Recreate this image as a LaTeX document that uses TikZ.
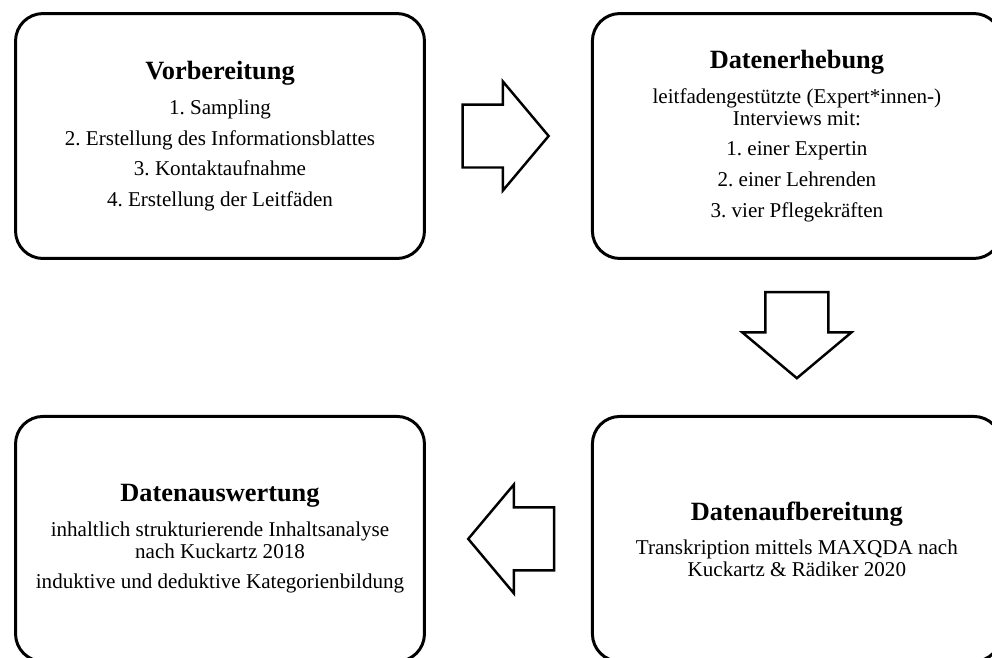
\documentclass[tikz,border=0pt]{standalone}
\usepackage{fontspec}
\setmainfont{Liberation Serif}
\frenchspacing
\usepackage{tikz}
\usetikzlibrary{
  positioning,
  shapes.arrows,
  calc
}
\newcommand{\phasetitle}[1]{{\fontsize{15}{18}\selectfont\bfseries #1}}
\tikzset{
  phase/.style={draw, line width=1.7pt, rounded corners=0.55cm,
    minimum width=8.18cm, minimum height=4.9cm, inner sep=0pt,
    align=center, font=\fontsize{12}{12.5}\selectfont},
  blockarrow/.style={draw, single arrow, line width=1.4pt, anchor=tail,
    inner xsep=0pt, inner ysep=0.605cm, minimum height=1.72cm,
    single arrow head extend=0.46cm, single arrow tip angle=100}
}

\begin{document}
\begin{tikzpicture}[x=0.02cm, y=-0.02cm]
    \useasboundingbox (0,0) rectangle (992,657);

    \node[phase] (vorb) at (220,136) {\phasetitle{Vorbereitung}\\[7.6pt]
      1. Sampling\\[5pt]
      2. Erstellung des Informationsblattes\\[5pt]
      3. Kontaktaufnahme\\[5pt]
      4. Erstellung der Leitfäden};
    \node[phase, right=3.3cm of vorb] (erheb) {\phasetitle{Datenerhebung}\\[7.3pt]
      leitfadengestützte (Expert*innen-)\\
      Interviews mit:\\[4.9pt]
      1. einer Expertin\\[4.9pt]
      2. einer Lehrenden\\[4.9pt]
      3. vier Pflegekräften};
    \node[phase, below=3.1cm of erheb] (aufb) {\phasetitle{Datenaufbereitung}\\[6.9pt]
      Transkription mittels MAXQDA nach\\
      Kuckartz \& Rädiker 2020};
    \node[phase, left=3.3cm of aufb] (ausw) {\phasetitle{Datenauswertung}\\[7.3pt]
      inhaltlich strukturierende Inhaltsanalyse\\
      nach Kuckartz 2018\\[4.7pt]
      induktive und deduktive Kategorienbildung};

    \node[blockarrow] (p1) at ($(vorb.east)!0.215!(erheb.west)$) {};
    \node[blockarrow, rotate=-90] (p2) at ($(erheb.south)!0.2!(aufb.north)$) {};
    \node[blockarrow, rotate=180] (p3) at ($(aufb.west)!0.215!(ausw.east)$) {};
  \end{tikzpicture}
\end{document}
